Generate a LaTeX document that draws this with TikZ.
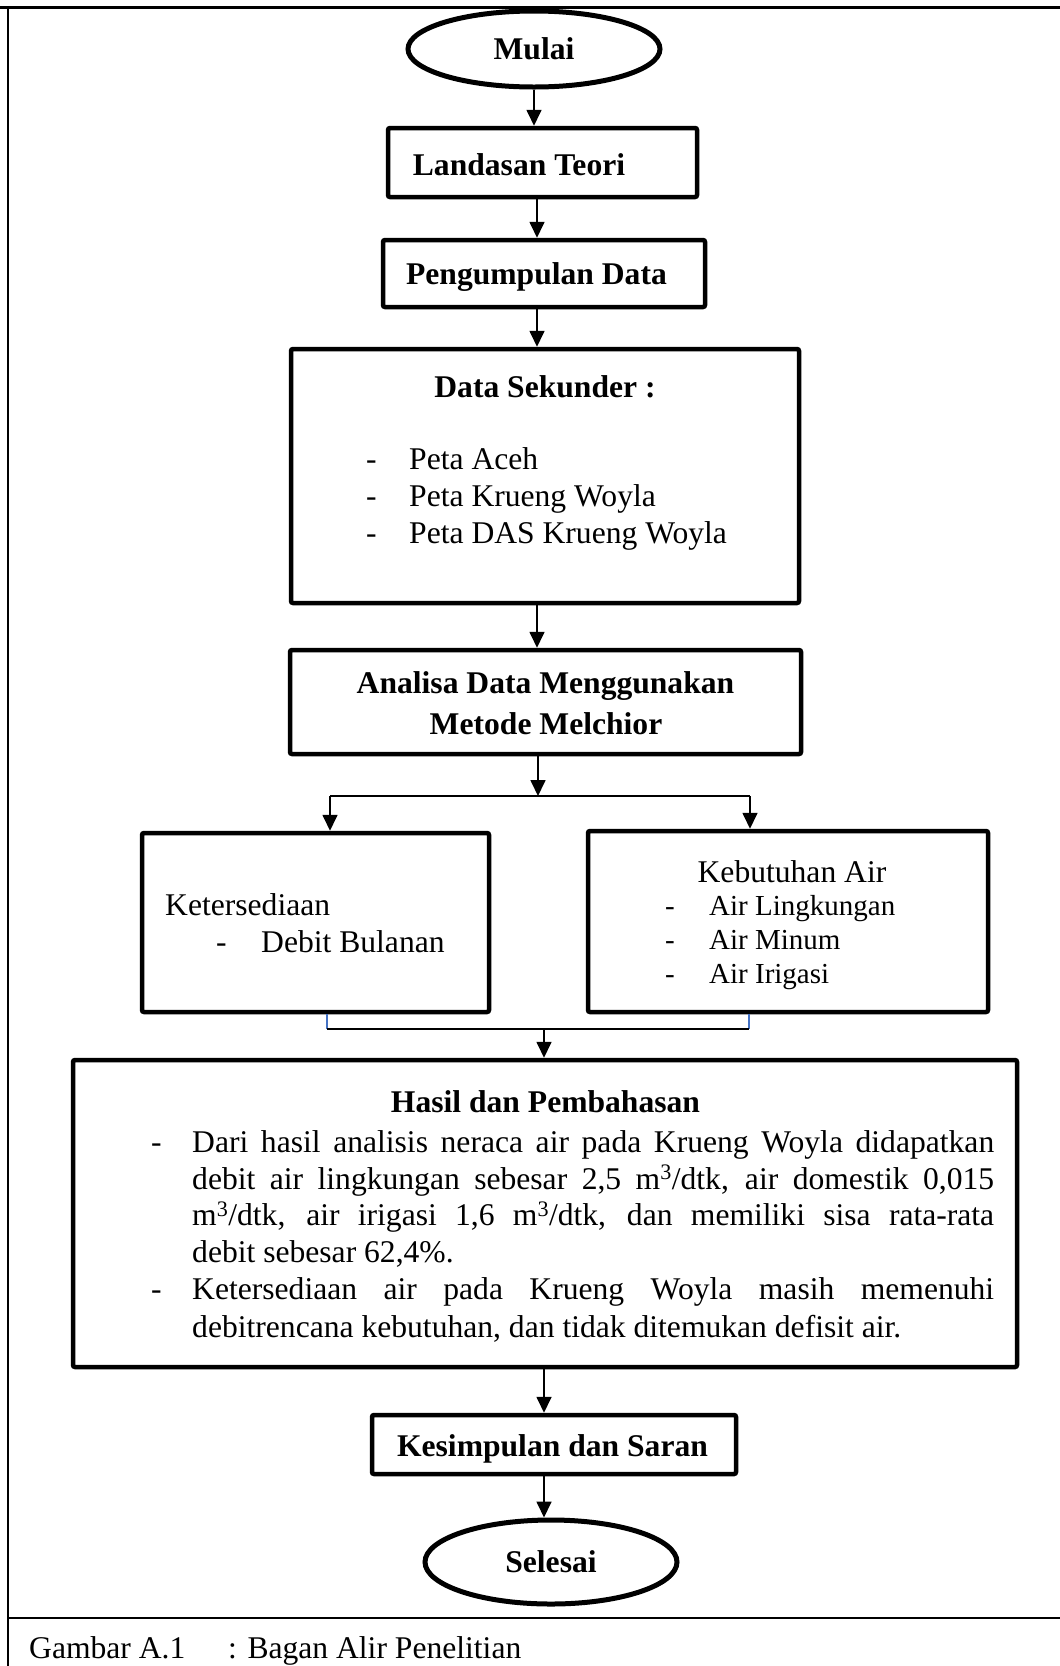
\documentclass[tikz,border=0pt]{standalone}
\usepackage{fontspec}
\setmainfont{Liberation Serif}[Ligatures=NoCommon]
\usetikzlibrary{arrows.meta,shapes.geometric}
\definecolor{lineblue}{RGB}{68,114,196}
\newcommand\fsn{\fontsize{31.6}{36.5}\selectfont}
\newcommand\fss{\fontsize{29}{33.5}\selectfont}
\begin{document}
\begin{tikzpicture}[x=1pt,y=-1pt,
  box/.style={draw, line width=4.5pt, rounded corners=2pt, inner sep=0pt},
  oval/.style={draw, ellipse, line width=5pt, inner sep=0pt, font=\fsn\bfseries},
  arr/.style={line width=1.7pt, -{Triangle[width=15pt,length=16pt]}},
  ln/.style={line width=1.7pt},
  bl/.style={line width=1.2pt, draw=lineblue},
  T/.style={inner sep=0pt, anchor=base, font=\fsn},
  TL/.style={inner sep=0pt, anchor=base west, font=\fsn},
  TS/.style={inner sep=0pt, anchor=base west, font=\fss}]
\useasboundingbox (0,0) rectangle (1060,1666);
% frame
\draw[line width=3pt] (0,7) -- (1060,7);
\draw[line width=1.5pt] (8,7) -- (8,1666);
\draw[line width=2.5pt] (8,1618) -- (1060,1618);

% nodes
\node[oval, minimum width=252pt, minimum height=76pt] (mulai) at (534,49) {Mulai};
\node[box, minimum width=309pt, minimum height=69pt] (landasan) at (542.5,162.5) {};
\node[T] (tland) at (519,175) {\bfseries Landasan Teori};
\node[box, minimum width=322pt, minimum height=67pt] (pengumpulan) at (544,273.5) {};
\node[T] (tpeng) at (536.5,284) {\bfseries Pengumpulan Data};
\node[box, minimum width=508pt, minimum height=254pt] (sekunder) at (545,476) {};
\node[T] (tsek) at (545,397) {\bfseries Data Sekunder :};
\node[TL] (d1) at (366,469) {-};
\node[TL] (s1) at (409,469) {Peta Aceh};
\node[TL] (d2) at (366,506) {-};
\node[TL] (s2) at (409,506) {Peta Krueng Woyla};
\node[TL] (d3) at (366,543) {-};
\node[TL] (s3) at (409,543) {Peta DAS Krueng Woyla};
\node[box, minimum width=511pt, minimum height=104pt] (analisa) at (545.5,702) {};
\node[T] (tan1) at (545.5,693) {\bfseries Analisa Data Menggunakan};
\node[T] (tan2) at (546,734) {\bfseries Metode Melchior};
\node[box, minimum width=347pt, minimum height=179pt] (keters) at (315.5,922.5) {};
\node[TL] (tket) at (165,915) {Ketersediaan};
\node[TL] (dk) at (216,952) {-};
\node[TL] (tdeb) at (261,952) {Debit Bulanan};
\node[box, minimum width=400pt, minimum height=181pt] (kebutuhan) at (788,921.5) {};
\node[T] (tkeb) at (792,882) {Kebutuhan Air};
\node[TS] (db1) at (665,915.5) {-};
\node[TS] (b1) at (709,915.5) {Air Lingkungan};
\node[TS] (db2) at (665,949.5) {-};
\node[TS] (b2) at (709,949.5) {Air Minum};
\node[TS] (db3) at (665,983.5) {-};
\node[TS] (b3) at (709,983.5) {Air Irigasi};
\node[box, minimum width=944pt, minimum height=307pt] (hasil) at (545,1213.5) {};
\node[T] (thas) at (545.5,1112) {\bfseries Hasil dan Pembahasan};
\node[TL] (hd1) at (151,1152) {-};
\node[TL] (h1) at (192,1152) {\makebox[802pt][s]{Dari hasil analisis neraca air pada Krueng Woyla didapatkan}};
\node[TL] (h2) at (192,1189) {\makebox[802pt][s]{debit air lingkungan sebesar 2,5 m\textsuperscript{3}/dtk, air domestik 0,015}};
\node[TL] (h3) at (192,1225.5) {\makebox[802pt][s]{m\textsuperscript{3}/dtk, air irigasi 1,6 m\textsuperscript{3}/dtk, dan memiliki sisa rata-rata}};
\node[TL] (h4) at (192,1262) {debit sebesar 62,4\%.};
\node[TL] (hd2) at (151,1299) {-};
\node[TL] (h5) at (192,1299) {\makebox[802pt][s]{Ketersediaan air pada Krueng Woyla masih memenuhi}};
\node[TL] (h6) at (192,1337.5) {debitrencana kebutuhan, dan tidak ditemukan defisit air.};
\node[box, minimum width=364pt, minimum height=59pt] (kesimpulan) at (554,1444.5) {};
\node[T] (tkes) at (552.5,1456) {\bfseries Kesimpulan dan Saran};
\node[oval, minimum width=252pt, minimum height=84pt] (selesai) at (551,1562) {Selesai};
\node[TL] (cap1) at (29,1658) {Gambar A.1};
\node[TL] (cap2) at (228,1658) {: Bagan Alir Penelitian};

% connector coordinates
\coordinate (xa) at (537,0);
\coordinate (split) at (538,796);
\coordinate (sl) at (330,796);
\coordinate (sr) at (750,796);
\coordinate (ml) at (327,1029);
\coordinate (mr) at (749,1029);
\coordinate (merge) at (544,1029);

% connectors
\draw[arr] (mulai.south) -- (mulai.south |- landasan.north);
\draw[arr] (landasan.south -| xa) -- (pengumpulan.north -| xa);
\draw[arr] (pengumpulan.south -| xa) -- (sekunder.north -| xa);
\draw[arr] (sekunder.south -| xa) -- (analisa.north -| xa);
\draw[arr] (analisa.south -| split) -- (split);
\draw[ln] (sl) -- (sr);
\draw[arr] (sl) -- (keters.north -| sl);
\draw[arr] (sr) -- (kebutuhan.north -| sr);
\draw[bl] (keters.south -| ml) -- (ml);
\draw[bl] (kebutuhan.south -| mr) -- (mr);
\draw[ln] (ml) -- (mr);
\draw[arr] (merge) -- (hasil.north -| merge);
\draw[arr] (hasil.south -| merge) -- (kesimpulan.north -| merge);
\draw[arr] (kesimpulan.south -| merge) -- (selesai.north -| merge);
\end{tikzpicture}
\end{document}
